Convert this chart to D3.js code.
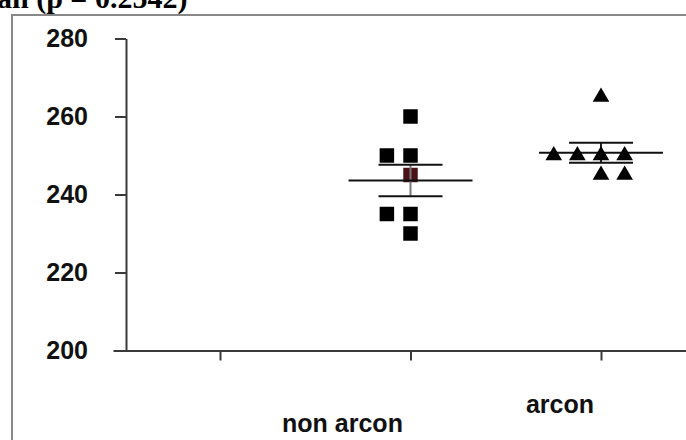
<!DOCTYPE html>
<html>
<head>
<meta charset="utf-8">
<script src="https://cdn.jsdelivr.net/npm/d3@7"></script>
<style>
  body { margin: 0; background: #fff; }
  svg { display: block; }
</style>
</head>
<body>
<div class="container"></div>
<script>
// data
const categories = ['non arcon', 'arcon'];
const nonArcon = [260, 250, 250, 245, 235, 235, 230];
const arcon = [265, 250, 250, 250, 250, 245, 245];
const yTicks = [200, 220, 240, 260, 280];
const title = 'an (p = 0.2542)';

// column slot of each point (how the tied values are spread sideways)
const nonArconSlots = [0, -1, 0, 0, -1, 0, 0];
const arconSlots = [0, -2, -1, 0, 1, 0, 1];

const width = 686,
    height = 440,
    slotW = 0.124,
    meanHalf = 62,
    seHalf = 32;

const groups = [
    { name: categories[0], values: nonArcon, slots: nonArconSlots, shape: d3.symbolSquare, size: 210, marksOnTop: false },
    { name: categories[1], values: arcon, slots: arconSlots, shape: d3.symbolTriangle, size: 120, marksOnTop: true }
];

// label offsets from the tick, as in the picture
const labelPos = [{ dx: -68, y: 432 }, { dx: -41, y: 413 }];

const svg = d3.select('.container')
    .append('svg')
    .attr('width', width)
    .attr('height', height);

// outer frame, runs off the right and bottom edge
svg.append('rect')
    .attr('x', 12)
    .attr('y', 15)
    .attr('width', 720)
    .attr('height', 460)
    .attr('fill', 'none')
    .attr('stroke', '#888')
    .attr('stroke-width', 2);

// title is cut by the top edge in the original
svg.append('text')
    .attr('x', -3)
    .attr('y', 8)
    .attr('font-family', '"Liberation Serif", "Times New Roman", serif')
    .attr('font-weight', 'bold')
    .attr('font-size', 30)
    .text(title);

const y = d3.scaleLinear()
    .domain([200, 280])
    .range([350.5, 38.5]);

const x = d3.scaleLinear()
    .domain([-0.5617, 2.5])
    .range([113, 696.25]);

const xAxis = svg.append('g')
    .attr('transform', 'translate(0,350.5)')
    .call(d3.axisBottom(x)
        .tickValues([0, 1, 2])
        .tickSize(10)
        .tickSizeOuter(0)
        .tickFormat(''));

const yAxis = svg.append('g')
    .attr('transform', 'translate(126,0)')
    .call(d3.axisLeft(y)
        .tickValues(yTicks)
        .tickSize(11)
        .tickSizeOuter(0)
        .tickPadding(27));

[xAxis, yAxis].forEach(a => {
    a.selectAll('path, line')
        .attr('stroke', '#3a3a3a')
        .attr('stroke-width', 2);
});

yAxis.selectAll('text')
    .attr('font-family', '"Liberation Sans", Arial, sans-serif')
    .attr('font-weight', 'bold')
    .attr('font-size', 25)
    .attr('fill', '#111');

svg.selectAll('.cat')
    .data(groups)
    .enter()
    .append('text')
    .attr('class', 'cat')
    .attr('x', (d, i) => x(i + 1) + labelPos[i].dx)
    .attr('y', (d, i) => labelPos[i].y)
    .attr('text-anchor', 'middle')
    .attr('font-family', '"Liberation Sans", Arial, sans-serif')
    .attr('font-weight', 'bold')
    .attr('font-size', 25)
    .attr('fill', '#111')
    .text(d => d.name);

groups.forEach((g, gi) => {
    const cx = gi + 1;
    const layer = svg.append('g');
    const lines = layer.append('g');
    const marks = g.marksOnTop ? layer.append('g') : layer.insert('g', ':first-child');

    marks.selectAll('path')
        .data(g.values.map((v, i) => ({ v: v, s: g.slots[i], i: i })))
        .enter()
        .append('path')
        .attr('d', d3.symbol().type(g.shape).size(g.size))
        .attr('transform', d => `translate(${x(cx + d.s * slotW)},${y(d.v)})`)
        .attr('fill', d => (gi === 0 && d.i === 3) ? '#4a1216' : '#000');

    const mean = d3.mean(g.values),
        se = d3.deviation(g.values) / Math.sqrt(g.values.length),
        px = x(cx);

    lines.append('line')
        .attr('x1', px).attr('x2', px)
        .attr('y1', y(mean + se)).attr('y2', y(mean - se))
        .attr('stroke', gi === 0 ? '#777' : '#222')
        .attr('stroke-width', 2);

    [mean + se, mean - se].forEach(v => {
        lines.append('line')
            .attr('x1', px - seHalf).attr('x2', px + seHalf)
            .attr('y1', y(v)).attr('y2', y(v))
            .attr('stroke', '#111')
            .attr('stroke-width', 2);
    });

    lines.append('line')
        .attr('x1', px - meanHalf).attr('x2', px + meanHalf)
        .attr('y1', y(mean)).attr('y2', y(mean))
        .attr('stroke', '#111')
        .attr('stroke-width', 2);
});
</script>
</body>
</html>
